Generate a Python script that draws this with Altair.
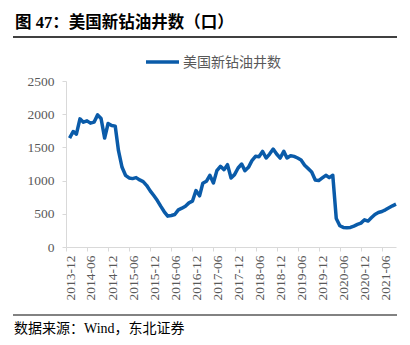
import altair as alt
import pandas as pd

TITLE = "图 47：美国新钻油井数（口）"
SERIES_NAME = "美国新钻油井数"
SOURCE = "数据来源：Wind，东北证券"

START_MONTH = "2014-01-01"
WELLS = [
    1640, 1740, 1700, 1930, 1880, 1900, 1865, 1880, 1990, 1935, 1640, 1860,
    1830, 1820, 1450, 1200, 1080, 1040, 1030, 1045, 1010, 985, 925, 845,
    775, 700, 615, 530, 465, 475, 490, 560, 585, 615, 665, 690,
    850, 770, 960, 990, 1080, 965, 1150, 1215, 1165, 1240, 1040, 1090,
    1190, 1250, 1150, 1200, 1300, 1365, 1360, 1440, 1340, 1400, 1475, 1400,
    1340, 1440, 1340, 1375, 1365, 1340, 1310, 1230, 1180, 1130, 1010, 1000,
    1040, 1080, 1045, 1080, 430, 320, 295, 290, 295, 315, 340, 360,
    410, 390, 440, 490, 520, 535, 560, 590, 620, 645,
]
TICK_LABELS = [
    "2013-12", "2014-06", "2014-12", "2015-06", "2015-12", "2016-06",
    "2016-12", "2017-06", "2017-12", "2018-06", "2018-12", "2019-06",
    "2019-12", "2020-06", "2020-12", "2021-06",
]
Y_TICKS = [0, 500, 1000, 1500, 2000, 2500]
X_START = (2013, 12)
X_END = (2021, 10)

LINE_COLOR = "#0A5BA9"
TEXT_GRAY = "#595959"
AXIS_GRAY = "#D9D9D9"
SERIF = "Liberation Serif, Noto Sans CJK SC"

PAD_L, PAD_T, W, H = 66, 81, 330, 166

dates = pd.date_range(START_MONTH, periods=len(WELLS), freq="MS").strftime("%Y-%m-%d")
df = pd.DataFrame({"date": dates, "wells": WELLS})


def dt(y, m):
    return alt.DateTime(year=y, month=m, date=1, utc=True)


tick_values = [dt(int(s[:4]), int(s[5:])) for s in TICK_LABELS]

line = alt.Chart(df).mark_line(color=LINE_COLOR, strokeWidth=3.5, strokeJoin="round").encode(
    x=alt.X(
        "date:T",
        scale=alt.Scale(type="utc", domain=[dt(*X_START), dt(*X_END)]),
        axis=alt.Axis(
            title=None,
            values=tick_values,
            labelExpr="utcFormat(datum.value, '%Y-%m')",
            labelAngle=270,
            labelAlign="right",
            labelBaseline="middle",
            labelOffset=4,
            labelPadding=4,
            labelFont=SERIF,
            labelFontSize=13.5,
            labelColor=TEXT_GRAY,
            tickSize=4,
            tickColor=AXIS_GRAY,
            domainColor=AXIS_GRAY,
            grid=False,
            labelOverlap=False,
        ),
    ),
    y=alt.Y(
        "wells:Q",
        scale=alt.Scale(domain=[0, 2500], nice=False),
        axis=alt.Axis(
            title=None,
            values=Y_TICKS,
            format="d",
            labelFont=SERIF,
            labelFontSize=13.5,
            labelColor=TEXT_GRAY,
            labelPadding=8,
            tickSize=4,
            tickColor=AXIS_GRAY,
            domainColor=AXIS_GRAY,
            grid=False,
        ),
    ),
)

one = pd.DataFrame({"k": [0]})
base = alt.Chart(one)

title = base.mark_text(
    align="left", baseline="middle", font=SERIF, fontSize=16.5, fontWeight="bold", color="#000000"
).encode(x=alt.value(15 - PAD_L), y=alt.value(23 - PAD_T), text=alt.value(TITLE))

top_rule = base.mark_rule(color="#404040", strokeWidth=2).encode(
    x=alt.value(13 - PAD_L), x2=alt.value(397 - PAD_L), y=alt.value(37 - PAD_T)
)

legend_line = base.mark_rule(color=LINE_COLOR, strokeWidth=3.5).encode(
    x=alt.value(146 - PAD_L), x2=alt.value(179 - PAD_L), y=alt.value(62 - PAD_T)
)

legend_text = base.mark_text(
    align="left", baseline="middle", font=SERIF, fontSize=14, color=TEXT_GRAY
).encode(x=alt.value(183 - PAD_L), y=alt.value(62.5 - PAD_T), text=alt.value(SERIES_NAME))

bottom_rule = base.mark_rule(color="#595959", strokeWidth=1.5).encode(
    x=alt.value(13 - PAD_L), x2=alt.value(397 - PAD_L), y=alt.value(315 - PAD_T)
)

source = base.mark_text(
    align="left", baseline="middle", font=SERIF, fontSize=14, color="#000000"
).encode(x=alt.value(14 - PAD_L), y=alt.value(329 - PAD_T), text=alt.value(SOURCE))

chart = alt.layer(line, title, top_rule, legend_line, legend_text, bottom_rule, source).properties(
    width=W,
    height=H,
    autosize=alt.AutoSizeParams(type="none"),
    padding={"left": PAD_L, "top": PAD_T, "right": 410 - PAD_L - W, "bottom": 345 - PAD_T - H},
    background="white",
).configure_view(stroke=None)

chart.save("out.html", embed_options={"renderer": "svg", "actions": False})
